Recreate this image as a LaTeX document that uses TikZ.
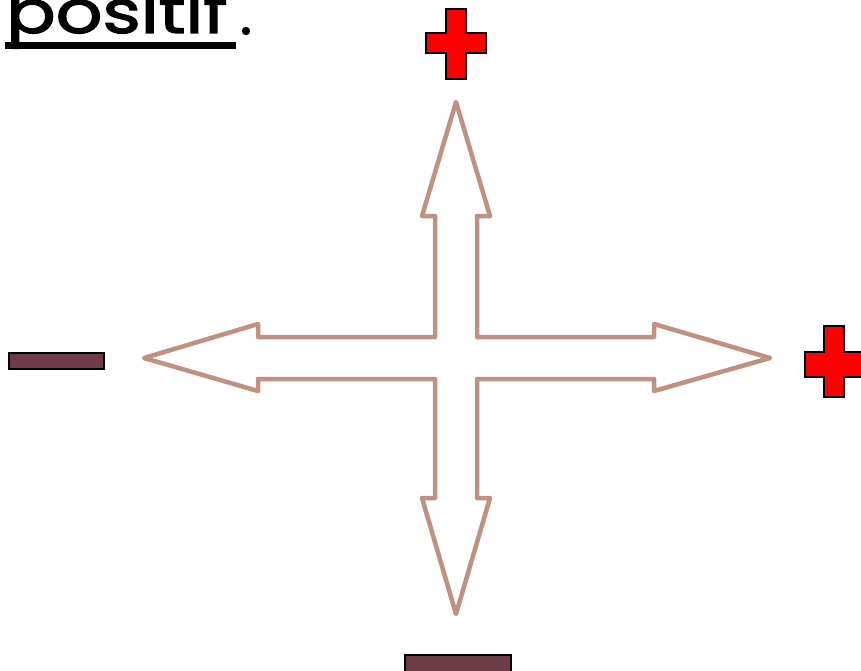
\documentclass[tikz,border=0pt]{standalone}
\usepackage{fontspec}
\newfontfamily\headfont{Poppins}[FakeBold=2]
\definecolor{arrowbrown}{RGB}{192,144,128}
\definecolor{plusred}{RGB}{255,0,0}
\definecolor{minusfill}{RGB}{110,60,70}
\tikzset{
  crossarrow/.style={draw=arrowbrown, line width=4.5pt, line join=round, fill=white},
  plussign/.style={draw=black, line width=2pt, fill=plusred, line join=miter},
  minussign/.style={draw=black, line width=2pt, fill=minusfill},
  headline/.style={font=\headfont\fontsize{60}{60}\selectfont, inner sep=0pt, text=black},
}
\begin{document}
\begin{tikzpicture}[x=1pt,y=-1pt]
\useasboundingbox (0,0) rectangle (861,671);

% heading, partly above the top edge
\node[headline, anchor=base west, xscale=1.22] (word) at (6,33) {positif};
\fill[black] (246,31) circle (4.2);
\fill[black] (5,42) rectangle (236,49);

% four-way arrow
\draw[crossarrow]
  (456,102) -- (490,216) -- (477,216) -- (477,337) -- (654,337) -- (654,324)
  -- (770,358) -- (654,391) -- (654,379) -- (477,379) -- (477,498) -- (490,498)
  -- (456,614) -- (422,498) -- (435,498) -- (435,379) -- (258,379) -- (258,391)
  -- (144,358) -- (258,324) -- (258,337) -- (435,337) -- (435,216) -- (422,216)
  -- cycle;

% plus signs
\draw[plussign]
  (446,9) -- (466,9) -- (466,33) -- (486,33) -- (486,53) -- (466,53) -- (466,79)
  -- (446,79) -- (446,53) -- (426,53) -- (426,33) -- (446,33) -- cycle;
\draw[plussign]
  (824,326) -- (844,326) -- (844,352) -- (864,352) -- (864,377) -- (844,377)
  -- (844,397) -- (824,397) -- (824,377) -- (805,377) -- (805,352) -- (824,352) -- cycle;

% minus signs
\draw[minussign] (9,353) rectangle (104,369);
\draw[minussign] (405,655) rectangle (511,672);
\end{tikzpicture}
\end{document}
